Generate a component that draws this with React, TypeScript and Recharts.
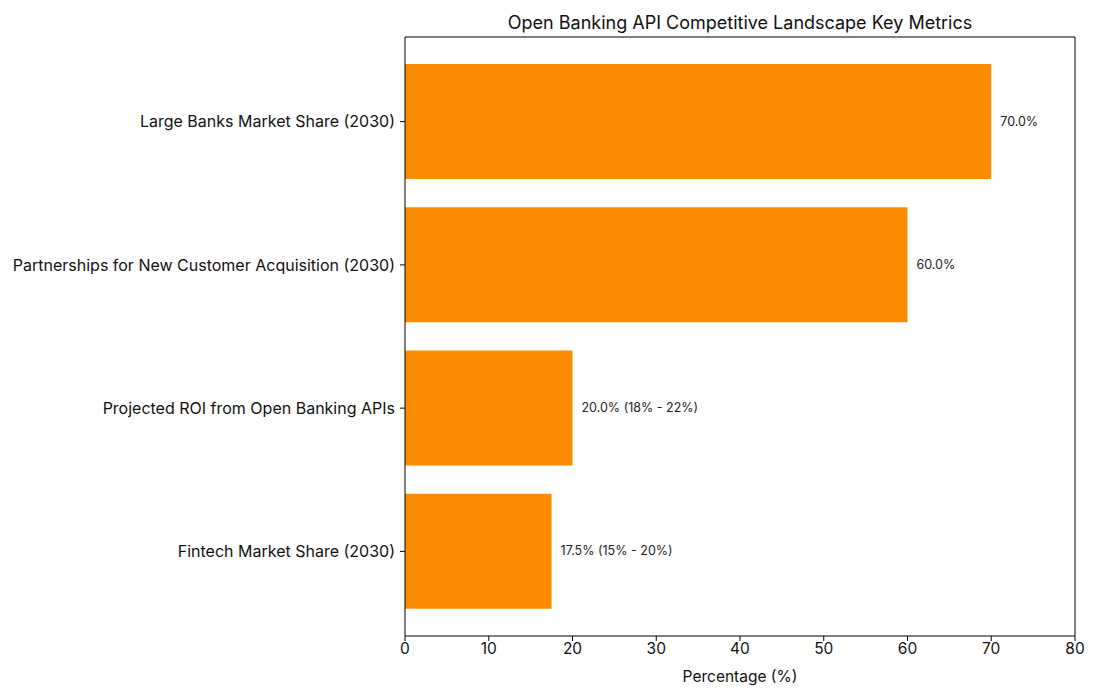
import { Bar, BarChart, LabelList, XAxis, YAxis } from "recharts";

const metrics = [
  "Large Banks Market Share (2030)",
  "Partnerships for New Customer Acquisition (2030)",
  "Projected ROI from Open Banking APIs",
  "Fintech Market Share (2030)"
];
const values = [70, 60, 20, 17.5];
const ranges = ["", "", "18% - 22%", "15% - 20%"];
const xTicks = [0, 10, 20, 30, 40, 50, 60, 70, 80];

const data = metrics.map((name, i) => ({
  name,
  value: values[i],
  label: `${values[i].toFixed(1)}%${ranges[i] ? ` (${ranges[i]})` : ""}`
}));

const font = "Inter, 'Noto Sans', sans-serif";

function ValueLabel(props: any) {
  const { x, y, width, height, value } = props;
  return (
    <text x={x + width + 9} y={y + height / 2} dy={4} fontSize={12.5} fill="#222" fontFamily={font}>
      {value}
    </text>
  );
}

export default function App() {
  return (
    <div style={{ position: "absolute", left: 0, top: 0, width: 1100, height: 700, background: "#fff", fontFamily: font }}>
      <BarChart
        width={1100}
        height={700}
        data={data}
        layout="vertical"
        margin={{ top: 36, right: 24, bottom: 0, left: 0 }}
      >
        <text x={740} y={29} textAnchor="middle" fontSize={18} fill="#111" fontFamily={font}>
          Open Banking API Competitive Landscape Key Metrics
        </text>
        <XAxis
          xAxisId="main"
          type="number"
          domain={[0, 80]}
          ticks={xTicks}
          stroke="#000"
          tick={{ fill: "#111", fontSize: 15.5, fontFamily: font }}
          tickSize={5}
          label={{ value: "Percentage (%)", position: "insideBottom", offset: 18, fill: "#111", fontSize: 15.5, fontFamily: font }}
          height={64}
        />
        <XAxis xAxisId="top" orientation="top" type="number" domain={[0, 80]} tick={false} tickLine={false} stroke="#000" height={1} />
        <YAxis
          yAxisId="main"
          type="category"
          dataKey="name"
          width={405}
          stroke="#000"
          tickSize={5}
          tickMargin={5}
          padding={{ top: 13, bottom: 13 }}
          tick={{ fill: "#111", fontSize: 16, fontFamily: font }}
        />
        <YAxis yAxisId="right" orientation="right" type="category" dataKey="name" tick={false} tickLine={false} stroke="#000" width={1} />
        <Bar xAxisId="main" yAxisId="main" dataKey="value" fill="#FF8C00" barSize={115} isAnimationActive={false}>
          <LabelList dataKey="label" content={<ValueLabel />} />
        </Bar>
      </BarChart>
    </div>
  );
}
